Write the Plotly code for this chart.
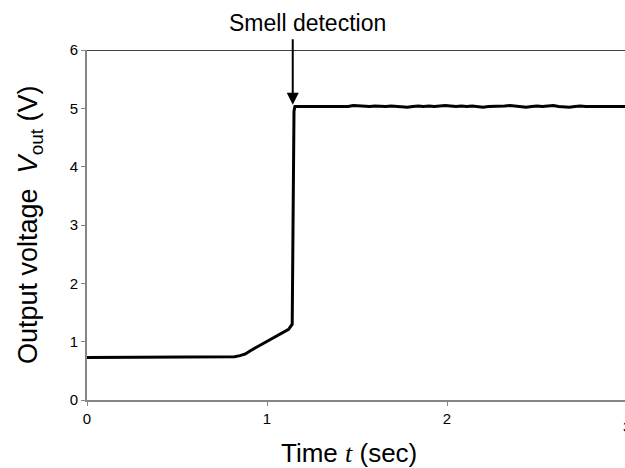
import plotly.graph_objects as go

#### sensor output

base_time = [0.00, 0.05, 0.10, 0.15, 0.20, 0.25, 0.30, 0.35, 0.40, 0.45, 0.50, 0.55, 0.60, 0.65, 0.70, 0.75, 0.80]
base_volt = [0.73, 0.73, 0.73, 0.73, 0.73, 0.73, 0.73, 0.74, 0.73, 0.73, 0.73, 0.73, 0.73, 0.74, 0.73, 0.73, 0.73]

rise_time = [0.82, 0.85, 0.88, 0.91, 0.94, 0.97, 1.00, 1.03, 1.06, 1.09, 1.12, 1.14, 1.145, 1.15]
rise_volt = [0.74, 0.76, 0.79, 0.85, 0.90, 0.96, 1.01, 1.06, 1.11, 1.16, 1.21, 1.30, 2.60, 4.95]

top_time = [1.155, 1.18, 1.21, 1.24, 1.27, 1.30, 1.33, 1.36, 1.39, 1.42, 1.45, 1.48, 1.51, 1.54,
            1.57, 1.60, 1.63, 1.66, 1.69, 1.72, 1.75, 1.78, 1.81, 1.84, 1.87, 1.90, 1.93, 1.96,
            1.99, 2.02, 2.05, 2.08, 2.11, 2.14, 2.17, 2.20, 2.23, 2.26, 2.29, 2.32, 2.35, 2.38,
            2.41, 2.44, 2.47, 2.50, 2.53, 2.56, 2.59, 2.62, 2.65, 2.68, 2.71, 2.74, 2.77, 2.80,
            2.83, 2.86, 2.89, 2.92, 2.95, 2.98, 3.00]
top_volt = [5.03, 5.03, 5.04, 5.03, 5.04, 5.03, 5.04, 5.03, 5.03, 5.04, 5.03, 5.05, 5.04, 5.04,
            5.03, 5.04, 5.03, 5.03, 5.04, 5.03, 5.03, 5.02, 5.03, 5.04, 5.03, 5.04, 5.03, 5.04,
            5.05, 5.04, 5.03, 5.04, 5.03, 5.04, 5.03, 5.02, 5.03, 5.03, 5.03, 5.04, 5.05, 5.04,
            5.03, 5.02, 5.03, 5.04, 5.03, 5.04, 5.05, 5.03, 5.02, 5.02, 5.03, 5.04, 5.03, 5.03,
            5.04, 5.03, 5.04, 5.03, 5.03, 5.04, 5.03]

time = base_time + rise_time + top_time
volt = base_volt + rise_volt + top_volt

x_ticks = [0, 1, 2]
y_ticks = [0, 1, 2, 3, 4, 5, 6]

font_main = "Arial, Liberation Sans, sans-serif"

fig = go.Figure()

fig.add_trace(go.Scatter(
    x=time,
    y=volt,
    mode="lines",
    line=dict(color="black", width=3),
    hoverinfo="skip",
))

#### top line at 6 V
fig.add_shape(type="line", xref="paper", yref="y", x0=0, x1=1, y0=6, y1=6,
              line=dict(color="black", width=1.5))

#### arrow pointing at the jump
fig.add_annotation(
    x=1.143, y=5.06, xref="x", yref="y",
    text="", showarrow=True,
    ax=0, ay=-67, axref="pixel", ayref="pixel",
    arrowhead=2, arrowsize=1.2, arrowwidth=2, arrowcolor="black",
)
fig.add_annotation(
    x=(307 - 87) / 538, y=1.0, xref="paper", yref="paper",
    xanchor="center", yanchor="middle",
    yshift=27, text="Smell detection", showarrow=False,
    font=dict(family=font_main, size=23, color="black"),
)

#### axis titles
fig.add_annotation(
    x=(349 - 87) / 538, y=0, xref="paper", yref="paper",
    xanchor="center", yanchor="middle",
    yshift=-53, text="Time <span style='font-family:Liberation Serif'><i>t</i></span> (sec)",
    showarrow=False, font=dict(family=font_main, size=26, color="black"),
)
fig.add_annotation(
    x=(30 - 87) / 538, y=0.5, xref="paper", yref="paper",
    xanchor="center", yanchor="middle",
    text="Output voltage&nbsp;&nbsp;<i>V</i><sub>out</sub> (V)", textangle=-90,
    showarrow=False, font=dict(family=font_main, size=27, color="black"),
)
fig.add_annotation(
    x=(627 - 87) / 538, y=0, xref="paper", yref="paper",
    xanchor="center", yanchor="middle",
    yshift=-26, text="3", showarrow=False,
    font=dict(family=font_main, size=15, color="black"),
)

fig.update_layout(
    width=625,
    height=468,
    margin=dict(l=87, r=0, t=50, b=68),
    paper_bgcolor="white",
    plot_bgcolor="white",
    showlegend=False,
    font=dict(family=font_main, size=15, color="black"),
)

fig.update_xaxes(
    range=[0, 538 / 180],
    tickvals=x_ticks,
    ticks="outside", ticklen=4, tickcolor="#868686",
    showline=True, linecolor="#868686", linewidth=2,
    showgrid=False, zeroline=False,
    tickfont=dict(size=15, color="black"),
)
fig.update_yaxes(
    range=[0, 6],
    tickvals=y_ticks,
    ticks="outside", ticklen=4, tickcolor="#868686",
    showline=True, linecolor="#868686", linewidth=2,
    showgrid=False, zeroline=False,
    tickfont=dict(size=15, color="black"),
)

#### page margin off so the figure sits at the window corner
fig.write_html("out.html", config={"displayModeBar": False},
               post_script="document.body.style.margin='0px';document.body.style.overflow='hidden';")
